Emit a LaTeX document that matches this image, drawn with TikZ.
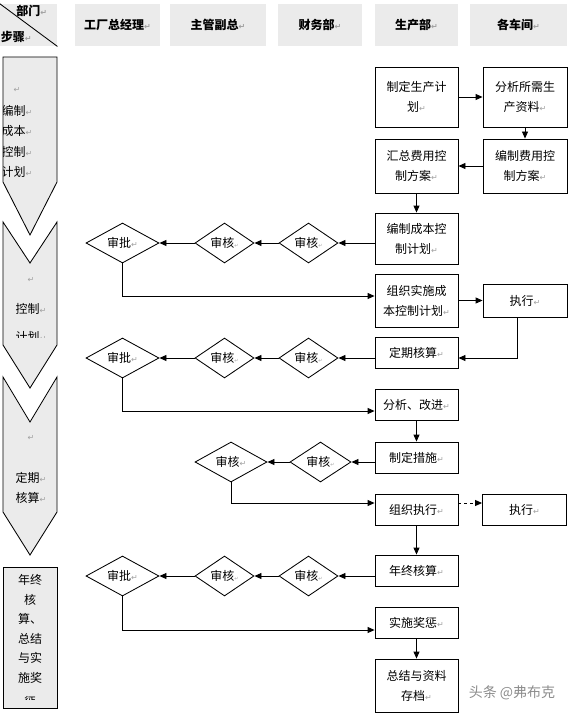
\documentclass[tikz,border=0pt]{standalone}
\usepackage{fontspec}
\setmainfont{Noto Sans CJK SC}
\newfontfamily\retfont{DejaVu Sans}
\usetikzlibrary{shapes.geometric,arrows.meta}

\definecolor{headgray}{HTML}{EBEBEB}
\definecolor{markgray}{HTML}{A0A0A0}
\definecolor{wmgray}{HTML}{8C8C8C}

% paragraph marks
\newcommand\pmk{{\color{markgray}\retfont\fontsize{8}{8}\selectfont ↵}}
\newcommand\pmks{{\color{markgray}\retfont\fontsize{5}{5}\selectfont ↵}}

\tikzset{
	head/.style={fill=headgray, minimum height=42pt, inner sep=0pt, font=\fontsize{12}{14}\selectfont\bfseries},
	headtxt/.style={inner sep=0pt, font=\fontsize{12}{14}\selectfont\bfseries},
	box/.style={draw, fill=white, inner sep=0pt, align=center, font=\fontsize{12}{20}\selectfont},
	cola/.style={box, minimum width=83pt},
	colb/.style={box, minimum width=84pt},
	check/.style={draw, diamond, aspect=1.5, inner sep=0pt, minimum height=40pt, font=\fontsize{12}{14}\selectfont},
	stage/.style={draw, fill=headgray},
	txt/.style={inner sep=0pt, font=\fontsize{12}{14}\selectfont}
}

\begin{document}
\begin{tikzpicture}[x=1pt, y=-1pt, line width=0.85pt, >={Triangle[length=7pt,width=6pt]}]
	\useasboundingbox (0,0) rectangle (570,714);
	% header row
	\node[head, minimum width=57pt] (h_0) at (28.5,25) {};
	\draw (h_0.north west) -- (h_0.south east);
	\node[headtxt, anchor=west] (h_dept) at (16,11) {部门\pmk};
	\node[headtxt, anchor=west] (h_step) at (0.5,37) {步骤\pmk};
	\foreach \x/\w/\name [count=\index] in {117.5/85/工厂总经理, 218/96/主管副总, 320/84/财务部, 416.5/83/生产部, 518.5/97/各车间}
	{
		\node[head, minimum width=\w pt] (h_\index) at (\x,25) {\name\pmk};
	}
	% step arrows on the left
	\draw[stage] (3,57) -- (57,57) -- (57,182) -- (30,235) -- (3,182) -- cycle;
	\draw[stage] (3,222) -- (30,263) -- (57,222) -- (57,345) -- (30,388) -- (3,345) -- cycle;
	\draw[stage] (3,377) -- (30,422) -- (57,377) -- (57,512) -- (30,555) -- (3,512) -- cycle;
	\draw[stage] (3,567) rectangle (57,708);
	\begin{scope}
		\clip (3,57) -- (57,57) -- (57,182) -- (30,235) -- (3,182) -- cycle;
		\foreach \y/\txt [count=\i] in {90/\pmk, 110.5/编制\pmk, 131/成本\pmk, 151.5/控制\pmk, 172/计划\pmk}
			\node[txt] (s1_\i) at (17,\y) {\txt};
	\end{scope}
	\begin{scope}
		\clip (0,260) rectangle (60,337);
		\foreach \y/\txt [count=\i] in {280/\pmk, 309/控制\pmk, 337/计划\pmk}
			\node[txt] (s2_\i) at (31,\y) {\txt};
	\end{scope}
	\foreach \y/\txt [count=\i] in {438/\pmk, 478/定期\pmk, 498/核算\pmk}
		\node[txt] (s3_\i) at (31,\y) {\txt};
	\begin{scope}
		\clip (0,567) rectangle (60,699);
		\foreach \y/\txt [count=\i] in {580/年终, 600/核, 619/算、, 639/总结, 658/与实, 678/施奖, 702/惩}
			\node[txt] (s4_\i) at (30,\y) {\txt};
	\end{scope}
	% boxes
	\node[cola, minimum height=60pt] (plan)  at (416.5,97)    {制定生产计\\划\pmk};
	\node[colb, minimum height=60pt] (anal)  at (525,97)      {分析所需生\\产资料\pmk};
	\node[colb, minimum height=54pt] (ecost) at (525,166)     {编制费用控\\制方案\pmk};
	\node[cola, minimum height=54pt] (sum)   at (416.5,166)   {汇总费用控\\制方案\pmk};
	\node[cola, minimum height=51pt] (cplan) at (416.5,238.5) {编制成本控\\制计划\pmk};
	\node[cola, minimum height=53pt] (impl)  at (416.5,300.5) {组织实施成\\本控制计划\pmk};
	\node[colb, minimum height=33pt] (exec1) at (525,300.5)   {执行\pmk};
	\node[cola, minimum height=31pt] (chk)   at (416.5,352.5) {定期核算\pmk};
	\node[cola, minimum height=31pt] (imp)   at (416.5,404.5) {分析、改进\pmk};
	\node[cola, minimum height=31pt] (meas)  at (416.5,457.5) {制定措施\pmk};
	\node[cola, minimum height=31pt] (org)   at (416.5,509.5) {组织执行\pmk};
	\node[colb, minimum height=31pt] (exec2) at (524.5,509.5) {执行\pmk};
	\node[cola, minimum height=31pt] (year)  at (416.5,570.5) {年终核算\pmk};
	\node[cola, minimum height=31pt] (rew)   at (416.5,622.5) {实施奖惩\pmk};
	\node[cola, minimum height=53pt] (arch)  at (416.5,685.5) {总结与资料\\存档\pmk};
	% review diamonds
	\foreach \row/\y in {1/243, 2/358, 4/576}
	{
		\node[check, minimum width=73pt] (p_\row) at (122.5,\y) {审批\pmk};
		\node[check, minimum width=59pt] (a_\row) at (224.5,\y) {审核\pmks};
		\node[check, minimum width=59pt] (f_\row) at (308.5,\y) {审核\pmks};
		\draw[->] (f_\row) -- (a_\row);
		\draw[->] (a_\row) -- (p_\row);
	}
	\node[check, minimum width=72pt] (k_3) at (231,462) {审核\pmk};
	\node[check, minimum width=61pt] (g_3) at (320.5,462) {审核\pmks};
	\draw[->] (g_3) -- (k_3);
	% edges
	\draw[->] (plan) -- (anal);
	\draw[->] (anal) -- (ecost);
	\draw[->] (ecost) -- (sum);
	\draw[->] (sum) -- (cplan);
	\draw[->] (cplan.west |- f_1) -- (f_1);
	\draw[->] (p_1.south) |- ([yshift=4.5pt]impl.west);
	\draw[->] (impl) -- (exec1);
	\draw[->] ([xshift=-8pt]exec1.south) |- (chk.east |- f_2);
	\draw[->] (chk.west |- f_2) -- (f_2);
	\draw[->] (p_2.south) |- ([yshift=-6.5pt]imp.west);
	\draw[->] (imp) -- (meas);
	\draw[->] (meas.west |- g_3) -- (g_3);
	\draw[->] (k_3.south) |- ([yshift=6.5pt]org.west);
	\draw[->, dashed] ([yshift=6.5pt]org.east) -- ([yshift=6.5pt]exec2.west);
	\draw[->] (org) -- (year);
	\draw[->] (year.west |- f_4) -- (f_4);
	\draw[->] (p_4.south) |- ([yshift=-7.5pt]rew.west);
	\draw[->] (rew) -- (arch);
	% watermark
	\node[txt, text=wmgray, font=\fontsize{14}{16}\selectfont] (wm) at (512,693) {头条 @弗布克};
\end{tikzpicture}
\end{document}
